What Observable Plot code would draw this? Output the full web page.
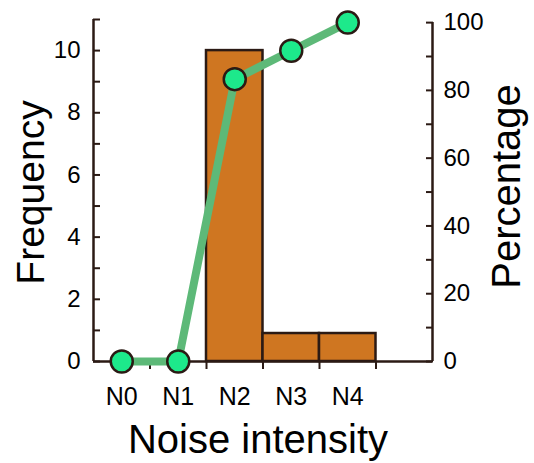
<!DOCTYPE html>
<html>
<head>
<meta charset="utf-8">
<script src="https://cdn.jsdelivr.net/npm/d3@7"></script>
<script src="https://cdn.jsdelivr.net/npm/@observablehq/plot@0.6"></script>
<style>
  html, body { margin: 0; padding: 0; background: #fff; }
</style>
</head>
<body>
<div id="chart"></div>
<script>
const categories = ["N0", "N1", "N2", "N3", "N4"];
const frequency = [0, 0, 10, 0.9, 0.9];
const percentage = [0, 0, 83.3, 91.7, 100];
const freqLabelTicks = [0, 2, 4, 6, 8, 10];
const freqTicks = [0, 1, 2, 3, 4, 5, 6, 7, 8, 9, 10, 11];
const pctLabelTicks = [0, 20, 40, 60, 80, 100];
const pctTicks = [0, 10, 20, 30, 40, 50, 60, 70, 80, 90, 100];
const binEdges = [1, 2, 3, 4, 5];

const K = 10.9 / 100; // percentage -> frequency units (right axis)
const dark = "#2b1a14";
const font = "'Liberation Sans', Arial, Helvetica, sans-serif";

const rows = categories.map((c, i) => ({cat: c, i, freq: frequency[i], pct: percentage[i]}));

const chart = Plot.plot({
  width: 534,
  height: 463,
  marginLeft: 93,
  marginRight: 102,
  marginTop: 19,
  marginBottom: 102,
  style: {fontFamily: font, fontSize: "24px", color: "#000", background: "#fff"},
  x: {domain: [0, 6]},
  y: {domain: [0, 11]},
  marks: [
    Plot.rectY(rows.filter(d => d.freq > 0), {
      x1: d => d.i, x2: d => d.i + 1, y: "freq",
      fill: "#cf7621", stroke: dark, strokeWidth: 2.5
    }),
    Plot.ruleX([0], {stroke: dark, strokeWidth: 2.5}),
    Plot.ruleX([6], {y1: 0, y2: 100 * K, stroke: dark, strokeWidth: 2.5}),
    Plot.ruleY([0], {stroke: dark, strokeWidth: 2.5}),
    // inward ticks
    Plot.axisY(freqTicks, {anchor: "left", label: null, tickSize: 7, dx: 7, stroke: dark, strokeWidth: 2, tickFormat: () => ""}),
    Plot.axisY(freqLabelTicks, {anchor: "left", label: null, tickSize: 0, tickPadding: 13, fontSize: 24, tickFormat: d => d}),
    Plot.axisY(pctTicks.map(p => p * K), {anchor: "right", label: null, tickSize: 7, dx: -7, stroke: dark, strokeWidth: 2, tickFormat: () => ""}),
    Plot.axisY(pctLabelTicks.map(p => p * K), {anchor: "right", label: null, tickSize: 0, tickPadding: 11, fontSize: 24, tickFormat: d => Math.round(d / K)}),
    Plot.axisX(binEdges, {anchor: "bottom", label: null, tickSize: 8, stroke: dark, strokeWidth: 2, tickFormat: () => ""}),
    Plot.axisX(categories.map((c, i) => i + 0.5), {anchor: "bottom", label: null, tickSize: 0, tickPadding: 26, fontSize: 25, tickFormat: d => categories[Math.floor(d)]}),
    Plot.line(rows, {x: d => d.i + 0.5, y: d => d.pct * K, stroke: "#5db978", strokeWidth: 8}),
    Plot.dot(rows, {x: d => d.i + 0.5, y: d => d.pct * K, r: 11, fill: "#1de98b", stroke: dark, strokeWidth: 2.5}),
    Plot.text(["Frequency"], {text: d => d, frameAnchor: "left", textAnchor: "middle", lineAnchor: "middle", rotate: -90, dx: -62, dy: 2, fontSize: 39}),
    Plot.text(["Percentage"], {text: d => d, frameAnchor: "right", textAnchor: "middle", lineAnchor: "middle", rotate: -90, dx: 75, dy: -4, fontSize: 40}),
    Plot.text(["Noise intensity"], {text: d => d, frameAnchor: "bottom", textAnchor: "middle", lineAnchor: "middle", dx: -5, dy: 79, fontSize: 40})
  ]
});
document.getElementById("chart").appendChild(chart);
</script>
</body>
</html>
